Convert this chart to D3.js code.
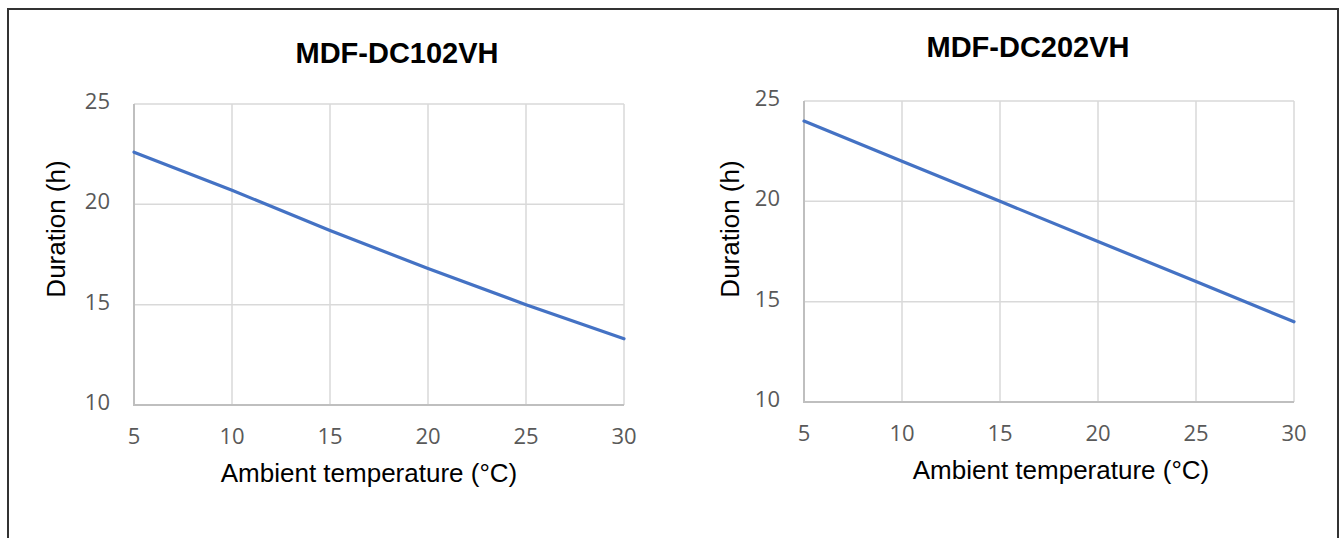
<!DOCTYPE html>
<html><head><meta charset="utf-8">
<script src="https://cdn.jsdelivr.net/npm/d3@7/dist/d3.min.js"></script>
<style>
html,body{margin:0;padding:0;background:#fff;}
svg{display:block;}
</style></head>
<body>
<svg id="c" width="1341" height="538"></svg>
<script>
// ---- data ----
const temps = [5, 10, 15, 20, 25, 30];
const xTicks = [5, 10, 15, 20, 25, 30];
const yTicks = [10, 15, 20, 25];
const titles = ["MDF-DC102VH", "MDF-DC202VH"];
const durationDC102 = [22.6, 20.7, 18.7, 16.8, 15.0, 13.3];
const durationDC202 = [24.0, 22.0, 20.0, 18.0, 16.0, 14.0];
const xLabel = "Ambient temperature (°C)";
const yLabel = "Duration (h)";

const svg = d3.select("#c");

// outer frame (bottom is cut off by the picture)
svg.append("path")
  .attr("d", "M8,540 L8,9 L1338,9 L1338,540")
  .attr("fill", "none").attr("stroke", "#333").attr("stroke-width", 2);

const panels = [
  {title: titles[0], values: durationDC102, x0: 134, x1: 624, yTop: 104, yBot: 405,
   tx: 397, ty: 63, ylx: 65, yly: 229, xlx: 369, xly: 482, ytickX: 110, xtickY: 444},
  {title: titles[1], values: durationDC202, x0: 804, x1: 1294, yTop: 101, yBot: 402,
   tx: 1028, ty: 57, ylx: 739, yly: 229, xlx: 1061, xly: 479, ytickX: 780, xtickY: 441}
];

panels.forEach(p => {
  const g = svg.append("g");
  const x = d3.scaleLinear().domain([5, 30]).range([p.x0, p.x1]);
  const y = d3.scaleLinear().domain([10, 25]).range([p.yBot, p.yTop]);

  // grid
  g.selectAll(".vg").data(xTicks.slice(1)).join("line")
    .attr("x1", d => x(d)).attr("x2", d => x(d))
    .attr("y1", p.yTop).attr("y2", p.yBot)
    .attr("stroke", "#d9d9d9").attr("stroke-width", 1.5);
  g.selectAll(".hg").data(yTicks.slice(1)).join("line")
    .attr("x1", p.x0).attr("x2", p.x1)
    .attr("y1", d => y(d)).attr("y2", d => y(d))
    .attr("stroke", "#d9d9d9").attr("stroke-width", 1.5);
  // axis lines
  g.append("line").attr("x1", p.x0).attr("x2", p.x0).attr("y1", p.yTop).attr("y2", p.yBot + 1)
    .attr("stroke", "#bfbfbf").attr("stroke-width", 2);
  g.append("line").attr("x1", p.x0).attr("x2", p.x1).attr("y1", p.yBot).attr("y2", p.yBot)
    .attr("stroke", "#bfbfbf").attr("stroke-width", 2);

  // tick labels
  g.selectAll(".yt").data(yTicks).join("text")
    .attr("x", p.ytickX).attr("y", d => y(d) + 5)
    .attr("text-anchor", "end")
    .attr("font-family", "'Open Sans', sans-serif").attr("font-size", 22)
    .attr("fill", "#595959").text(d => d);
  g.selectAll(".xt").data(xTicks).join("text")
    .attr("x", d => x(d)).attr("y", p.xtickY)
    .attr("text-anchor", "middle")
    .attr("font-family", "'Open Sans', sans-serif").attr("font-size", 22)
    .attr("fill", "#595959").text(d => d);

  // line
  const line = d3.line().x((d, i) => x(temps[i])).y(d => y(d));
  g.append("path").datum(p.values).attr("d", line)
    .attr("fill", "none").attr("stroke", "#4472C4").attr("stroke-width", 3.2)
    .attr("stroke-linecap", "round");

  // title
  g.append("text").attr("x", p.tx).attr("y", p.ty).attr("text-anchor", "middle")
    .attr("font-family", "'Liberation Sans', Arial, sans-serif").attr("font-weight", "bold")
    .attr("font-size", 29).attr("fill", "#000").text(p.title);
  // axis titles
  g.append("text").attr("x", p.xlx).attr("y", p.xly).attr("text-anchor", "middle")
    .attr("font-family", "'Liberation Sans', Arial, sans-serif")
    .attr("font-size", 26).attr("fill", "#000").text(xLabel);
  g.append("text").attr("transform", `translate(${p.ylx},${p.yly}) rotate(-90)`)
    .attr("text-anchor", "middle")
    .attr("font-family", "'Liberation Sans', Arial, sans-serif")
    .attr("font-size", 26).attr("fill", "#000").text(yLabel);
});
</script>
</body></html>
